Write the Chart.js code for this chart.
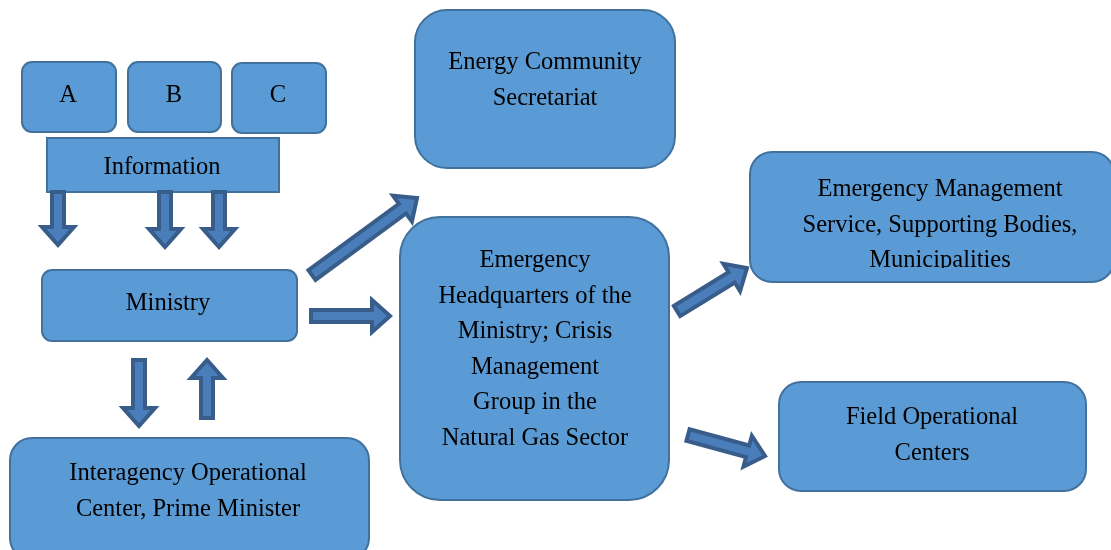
<!DOCTYPE html>
<html>
<head>
<meta charset="utf-8">
<script src="https://cdn.jsdelivr.net/npm/chart.js@4"></script>
<style>
  body { margin: 0; background: #fff; }
  #wrap { width: 1111px; height: 550px; }
</style>
</head>
<body>
<div id="wrap"><canvas id="chart"></canvas></div>
<script>
// nodes of the diagram (edges and corner radius in chart units)
const nodeLabels = [
  ['A'], ['B'], ['C'], ['Information'], ['Ministry'],
  ['Interagency Operational', 'Center, Prime Minister'],
  ['Energy Community', 'Secretariat'],
  ['Emergency', 'Headquarters of the', 'Ministry; Crisis', 'Management', 'Group in the', 'Natural Gas Sector'],
  ['Emergency Management', 'Service, Supporting Bodies,', 'Municipalities'],
  ['Field Operational', 'Centers']
];
const nodeLeft   = [22, 128, 232, 47, 42, 10, 415, 400, 750, 779];
const nodeTop    = [62, 62, 63, 138, 270, 438, 10, 217, 152, 382];
const nodeRight  = [116, 221, 326, 279, 297, 369, 675, 669, 1114, 1086];
const nodeBottom = [132, 132, 133, 192, 341, 560, 168, 500, 282, 491];
const nodeRadius = [10, 10, 10, 0, 10, 22, 32, 40, 22, 22];
const nodeTextY  = [94, 94, 94, 166, 302, 472, 61, 259, 188, 416];
const nodeTextX  = [68, 174, 278, 162, 168, 188, 545, 535, 940, 932];

// arrows (tail -> head)
const arrowFromX = [58, 165, 219, 139, 207, 312, 311, 677, 688];
const arrowFromY = [192, 192, 192, 360, 418, 275, 316, 311, 435];
const arrowToX   = [58, 165, 219, 139, 207, 417, 390, 747, 765];
const arrowToY   = [245, 247, 247, 426, 360, 198, 316, 268, 456];

const lineGap = 35.5;

function arrowPath(ctx, x1, y1, x2, y2) {
  const dx = x2 - x1, dy = y2 - y1;
  const len = Math.hypot(dx, dy);
  const ux = dx / len, uy = dy / len;
  const nx = -uy, ny = ux;
  const sw = 6, hw = 16, hl = 18;
  const bx = x2 - ux * hl, by = y2 - uy * hl;
  const pts = [
    [x1 + nx * sw, y1 + ny * sw],
    [bx + nx * sw, by + ny * sw],
    [bx + nx * hw, by + ny * hw],
    [x2, y2],
    [bx - nx * hw, by - ny * hw],
    [bx - nx * sw, by - ny * sw],
    [x1 - nx * sw, y1 - ny * sw]
  ];
  ctx.beginPath();
  pts.forEach((p, i) => i ? ctx.lineTo(p[0], p[1]) : ctx.moveTo(p[0], p[1]));
  ctx.closePath();
}

const diagramPlugin = {
  id: 'diagram',
  beforeDatasetsDraw(chart) {
    const ctx = chart.ctx;
    const sx = chart.scales.x, sy = chart.scales.y;
    ctx.save();
    // boxes
    nodeLabels.forEach((lines, i) => {
      const l = sx.getPixelForValue(nodeLeft[i]);
      const r = sx.getPixelForValue(nodeRight[i]);
      const t = sy.getPixelForValue(nodeTop[i]);
      const b = sy.getPixelForValue(nodeBottom[i]);
      ctx.beginPath();
      ctx.roundRect(l, t, r - l, b - t, nodeRadius[i]);
      ctx.fillStyle = '#5B9BD5';
      ctx.fill();
      ctx.lineWidth = 2;
      ctx.strokeStyle = '#41719C';
      ctx.stroke();

      // text is cut off near the bottom edge like in the original
      ctx.save();
      ctx.beginPath();
      ctx.rect(l, t, r - l, b - t - 14);
      ctx.clip();
      ctx.fillStyle = '#000';
      ctx.font = '24.5px "Liberation Serif", serif';
      ctx.textAlign = 'center';
      ctx.textBaseline = 'middle';
      const cx = sx.getPixelForValue(nodeTextX[i]);
      lines.forEach((txt, k) => {
        ctx.fillText(txt, cx, sy.getPixelForValue(nodeTextY[i] + k * lineGap) + 2);
      });
      ctx.restore();
    });
    // arrows
    arrowFromX.forEach((_, i) => {
      arrowPath(ctx,
        sx.getPixelForValue(arrowFromX[i]), sy.getPixelForValue(arrowFromY[i]),
        sx.getPixelForValue(arrowToX[i]), sy.getPixelForValue(arrowToY[i]));
      ctx.fillStyle = '#4A7EBB';
      ctx.fill();
      ctx.lineWidth = 4;
      ctx.lineJoin = 'miter';
      ctx.strokeStyle = '#385D8A';
      ctx.stroke();
    });
    ctx.restore();
  }
};

new Chart(document.getElementById('chart'), {
  type: 'scatter',
  data: {
    datasets: [{
      data: nodeTextX.map((x, i) => ({ x: x, y: nodeTextY[i] })),
      pointRadius: 0
    }]
  },
  options: {
    responsive: true,
    maintainAspectRatio: false,
    animation: false,
    layout: { padding: 0 },
    plugins: { legend: { display: false }, tooltip: { enabled: false } },
    scales: {
      x: { type: 'linear', min: 0, max: 1111, display: false },
      y: { type: 'linear', min: 0, max: 550, reverse: true, display: false }
    }
  },
  plugins: [diagramPlugin]
});
</script>
</body>
</html>
